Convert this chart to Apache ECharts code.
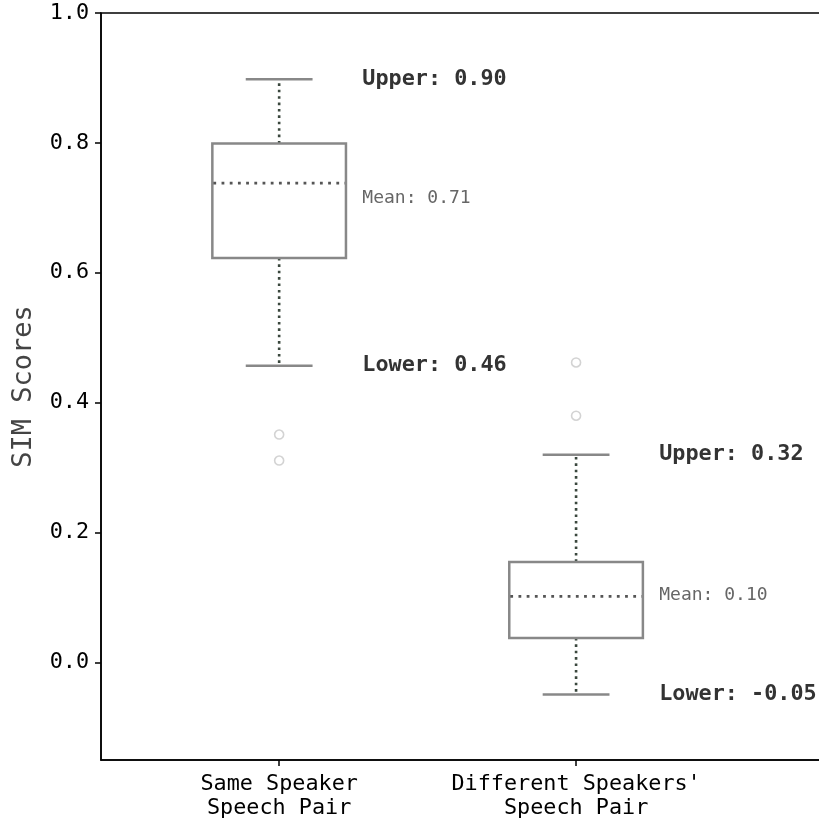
<!DOCTYPE html>
<html><head><meta charset="utf-8">
<script src="https://cdn.jsdelivr.net/npm/echarts@6/dist/echarts.min.js"></script>
<style>html,body{margin:0;padding:0;background:#fff}#c{width:819px;height:823px}</style>
</head><body><div id="c"></div>
<script>
const categories = ["Same Speaker\nSpeech Pair", "Different Speakers'\nSpeech Pair"];
const lowerCaps = [0.457, -0.049];
const q1s = [0.623, 0.038];
const medians = [0.738, 0.102];
const q3s = [0.799, 0.155];
const upperCaps = [0.898, 0.320];
const means = [0.714, 0.103];
const outlierX = [0, 0, 1, 1];
const outlierY = [0.351, 0.311, 0.462, 0.380];
const yTicks = [0.0, 0.2, 0.4, 0.6, 0.8, 1.0];
const xTicks = [0, 1];

const MONO = "'DejaVu Sans Mono', monospace";
const boxData = categories.map((c, i) => [i, lowerCaps[i], q1s[i], medians[i], q3s[i], upperCaps[i], means[i]]);
const outData = outlierX.map((x, i) => [x, outlierY[i]]);

function renderBox(params, api) {
  const x = api.value(0);
  const lo = api.coord([x, api.value(1)]);
  const q1 = api.coord([x, api.value(2)]);
  const md = api.coord([x, api.value(3)]);
  const q3 = api.coord([x, api.value(4)]);
  const hi = api.coord([x, api.value(5)]);
  const mn = api.coord([x + 0.28, api.value(6)]);
  const tx = mn[0];
  const hw = api.size([0.45, 0])[0] / 2;
  const cw = hw / 2;
  const cx = lo[0];
  const gray = '#888888';
  const whisk = { stroke: '#3a473d', lineWidth: 2.6, lineDash: [2.6, 3.8] };
  return {
    type: 'group',
    children: [
      { type: 'line', shape: { x1: cx, y1: q3[1], x2: cx, y2: hi[1] }, style: whisk },
      { type: 'line', shape: { x1: cx, y1: q1[1], x2: cx, y2: lo[1] }, style: whisk },
      { type: 'line', shape: { x1: cx - cw, y1: hi[1], x2: cx + cw, y2: hi[1] }, style: { stroke: gray, lineWidth: 2.5 } },
      { type: 'line', shape: { x1: cx - cw, y1: lo[1], x2: cx + cw, y2: lo[1] }, style: { stroke: gray, lineWidth: 2.5 } },
      { type: 'rect', shape: { x: cx - hw, y: q3[1], width: 2 * hw, height: q1[1] - q3[1] }, style: { fill: '#fff', stroke: gray, lineWidth: 2.5 } },
      { type: 'line', shape: { x1: cx - hw + 1, y1: md[1], x2: cx + hw - 1, y2: md[1] }, style: { stroke: '#555', lineWidth: 2.8, lineDash: [2.8, 5.4] } },
      { type: 'text', style: { x: tx, y: hi[1], text: 'Upper: ' + api.value(5).toFixed(2), fill: '#333', fontFamily: MONO, fontWeight: 'bold', fontSize: 21.8, align: 'left', verticalAlign: 'middle' } },
      { type: 'text', style: { x: tx, y: lo[1], text: 'Lower: ' + api.value(1).toFixed(2), fill: '#333', fontFamily: MONO, fontWeight: 'bold', fontSize: 21.8, align: 'left', verticalAlign: 'middle' } },
      { type: 'text', style: { x: tx, y: mn[1], text: 'Mean: ' + api.value(6).toFixed(2), fill: '#666', fontFamily: MONO, fontSize: 18, align: 'left', verticalAlign: 'middle' } }
    ]
  };
}

const chart = echarts.init(document.getElementById('c'), null, { renderer: 'canvas' });
chart.setOption({
  animation: false,
  backgroundColor: '#fff',
  grid: { left: 101, top: 13, width: 772, height: 747, outerBoundsMode: 'none', containLabel: false, show: true, borderColor: '#000', borderWidth: 1.5, backgroundColor: 'transparent' },
  xAxis: {
    type: 'value', min: -0.6, max: 2.0,
    splitLine: { show: false },
    axisLine: { show: true, onZero: false, lineStyle: { color: '#000', width: 1.5 } },
    axisTick: { show: true, customValues: xTicks, length: 6, lineStyle: { color: '#000', width: 1.5 } },
    axisLabel: { customValues: xTicks, formatter: v => categories[Math.round(v)], color: '#000', fontFamily: MONO, fontSize: 21.8, lineHeight: 24, margin: 12, align: 'center' }
  },
  yAxis: {
    type: 'value', min: -0.15, max: 1.0,
    name: 'SIM Scores', nameLocation: 'middle', nameGap: 64,
    nameTextStyle: { color: '#444', fontFamily: MONO, fontSize: 27 },
    splitLine: { show: false },
    axisLine: { show: true, onZero: false, lineStyle: { color: '#000', width: 1.5 } },
    axisTick: { show: true, customValues: yTicks, length: 6, lineStyle: { color: '#000', width: 1.5 } },
    axisLabel: { customValues: yTicks, formatter: v => v.toFixed(1), color: '#000', fontFamily: MONO, fontSize: 21.8, margin: 12 }
  },
  series: [
    { type: 'custom', renderItem: renderBox, data: boxData, encode: { x: 0, y: [1, 2, 3, 4, 5] }, clip: false, z: 2 },
    { type: 'scatter', data: outData, symbol: 'circle', symbolSize: 9, itemStyle: { color: 'rgba(0,0,0,0)', borderColor: '#c8c8c8', borderWidth: 1.6 }, z: 3 }
  ]
});
</script>
</body></html>
